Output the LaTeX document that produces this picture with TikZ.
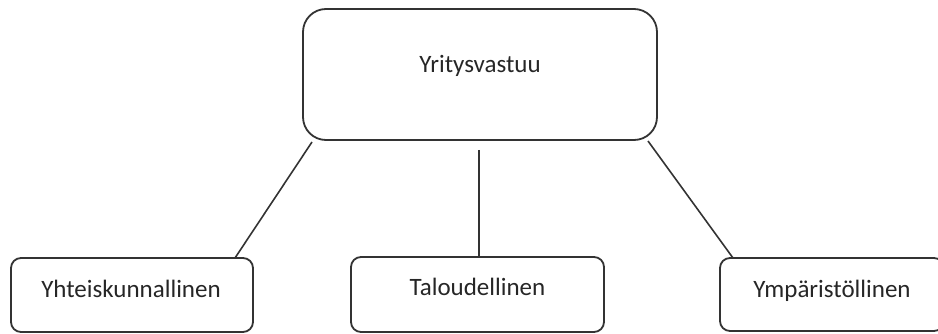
\documentclass[tikz,border=0pt]{standalone}
\usepackage{fontspec}
\setmainfont{Carlito}
\begin{document}
\begin{tikzpicture}[x=1pt,y=-1pt,
  box/.style={draw=black!80,line width=1.8pt,rectangle,inner sep=0pt,outer sep=0pt},
  lbl/.style={anchor=base,inner sep=0pt,text=black!85,font=\fontsize{25}{30}\selectfont},
  conn/.style={draw=black!80,line width=1.6pt}]
\useasboundingbox (0,0) rectangle (938,334);
\begin{scope}
\clip (0,0) rectangle (938,334);
\node[box,rounded corners=23pt,minimum width=354pt,minimum height=131pt] (top) at (480,74.5) {};
\node[box,rounded corners=10pt,minimum width=242pt,minimum height=74pt] (left) at (132,295) {};
\node[box,rounded corners=10pt,minimum width=253pt,minimum height=75pt] (mid) at (477.5,294.5) {};
\node[box,rounded corners=10pt,minimum width=224pt,minimum height=73pt] (right) at (832,294.5) {};
\end{scope}
\node[lbl] (ttop) at (480,73) {Yritysvastuu};
\node[lbl] (tleft) at (131,297) {Yhteiskunnallinen};
\node[lbl] (tmid) at (477.5,295) {Taloudellinen};
\node[lbl] (tright) at (832,297) {Ympäristöllinen};
\draw[conn] ([xshift=9pt,yshift=-2pt]top.south west) -- ([xshift=-18pt]left.north east);
\draw[conn] ([xshift=-9pt,yshift=-1pt]top.south east) -- ([xshift=13pt]right.north west);
\coordinate (ms) at ([xshift=-1pt,yshift=-10pt]top.south);
\draw[conn] (ms) -- (ms |- mid.north);
\end{tikzpicture}
\end{document}
